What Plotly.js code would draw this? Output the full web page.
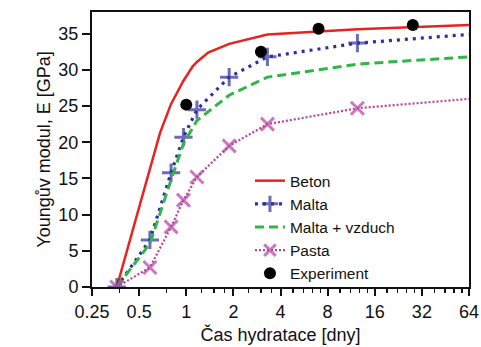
<!DOCTYPE html>
<html>
<head>
<meta charset="utf-8">
<script src="https://cdn.plot.ly/plotly-3.0.1.min.js"></script>
<style>html,body{margin:0;padding:0;background:#fff;}#chart{width:481px;height:347px;}</style>
</head>
<body>
<div id="chart"></div>
<script>
// Age of hydration [days]
const days = [0.36, 0.586, 0.8, 0.96, 1.17, 1.88, 3.3, 12.4, 64];
const betonDays = [0.36, 0.586, 0.68, 0.8, 0.87, 0.96, 1.10, 1.17, 1.38, 1.88, 3.3, 12.4, 64];
const beton = [0, 16.3, 21.3, 25.3, 26.8, 28.5, 30.5, 31.1, 32.4, 33.6, 34.9, 35.6, 36.2];
const malta = [0, 6.5, 15.8, 20.7, 24.5, 29.0, 31.8, 33.7, 34.9];
const maltaVzduch = [0, 6.0, 14.8, 19.8, 23.0, 26.5, 29.0, 30.8, 31.8];
const pasta = [0, 2.7, 8.3, 12.0, 15.2, 19.5, 22.5, 24.7, 26.0];
const expDays = [1, 3, 7, 28];
const expE = [25.2, 32.5, 35.7, 36.2];
const xTickVals = [0.25, 0.5, 1, 2, 4, 8, 16, 32, 64];
const xTickText = ['0.25', '0.5', '1', '2', '4', '8', '16', '32', '64'];
const xMinorVals = [0.375, 0.75, 1.25, 1.5, 1.75, 2.5, 3, 3.5, 4.8, 5.6, 6.4, 7.2, 9.6, 11.2, 12.8, 14.4, 19.2, 22.4, 25.6, 28.8, 38.4, 44.8, 51.2, 57.6];
const yTickVals = [0, 5, 10, 15, 20, 25, 30, 35];

const font = {family: 'Liberation Sans, Arial, sans-serif', size: 18, color: '#111'};
const legendFont = {family: 'Liberation Sans, Arial, sans-serif', size: 15.5, color: '#111'};

// markers on every computed point except the last one (64 days)
const markSizes = days.map((d, i) => (i === days.length - 1 ? 0 : 13));

const traces = [
  {x: betonDays, y: beton, name: 'Beton', mode: 'lines',
   line: {color: '#e8231f', width: 2.5}},
  {x: days, y: malta, name: 'Malta', mode: 'lines+markers',
   line: {color: '#2f2f9f', width: 3.2, dash: '3px,5px'},
   marker: {symbol: 'cross-thin', size: markSizes, color: '#2f2f9f', line: {color: '#2f2f9f', width: 3}}},
  {x: days, y: maltaVzduch, name: 'Malta + vzduch', mode: 'lines',
   line: {color: '#30b54a', width: 3, dash: '9px,5px'}},
  {x: days, y: pasta, name: 'Pasta', mode: 'lines+markers',
   line: {color: '#b8409f', width: 2.2, dash: '2px,2px'},
   marker: {symbol: 'x-thin', size: markSizes, color: '#b8409f', line: {color: '#b8409f', width: 3}}},
  {x: expDays, y: expE, name: 'Experiment', mode: 'markers',
   marker: {symbol: 'circle', size: 12, color: '#000'}}
];

const layout = {
  width: 481, height: 347,
  margin: {l: 92, r: 12, t: 12, b: 60},
  paper_bgcolor: '#fff', plot_bgcolor: '#fff',
  font: font,
  showlegend: true,
  legend: {x: 0.419, xanchor: 'left', y: 0.447, yanchor: 'top',
           bgcolor: 'rgba(0,0,0,0)', font: legendFont, tracegroupgap: 0},
  xaxis: {type: 'log', range: [Math.log10(0.25), Math.log10(64)],
          tickmode: 'array', tickvals: xTickVals, ticktext: xTickText,
          ticks: 'outside', ticklen: 7, tickwidth: 2, tickcolor: '#111',
          minor: {tickmode: 'array', tickvals: xMinorVals, ticks: 'outside', ticklen: 4, tickwidth: 1.5, tickcolor: '#111'},
          showline: true, linewidth: 2, linecolor: '#111', mirror: true,
          showgrid: false, zeroline: false,
          title: {text: 'Čas hydratace [dny]', font: font, standoff: 8}},
  yaxis: {range: [0, 38], tickmode: 'array', tickvals: yTickVals,
          ticks: 'outside', ticklen: 8, tickwidth: 2, tickcolor: '#111',
          showline: true, linewidth: 2, linecolor: '#111', mirror: true,
          showgrid: false, zeroline: false,
          title: {text: 'Youngův modul, E [GPa]', font: font, standoff: 3}}
};

Plotly.newPlot('chart', traces, layout, {displayModeBar: false, staticPlot: true});
</script>
</body>
</html>
